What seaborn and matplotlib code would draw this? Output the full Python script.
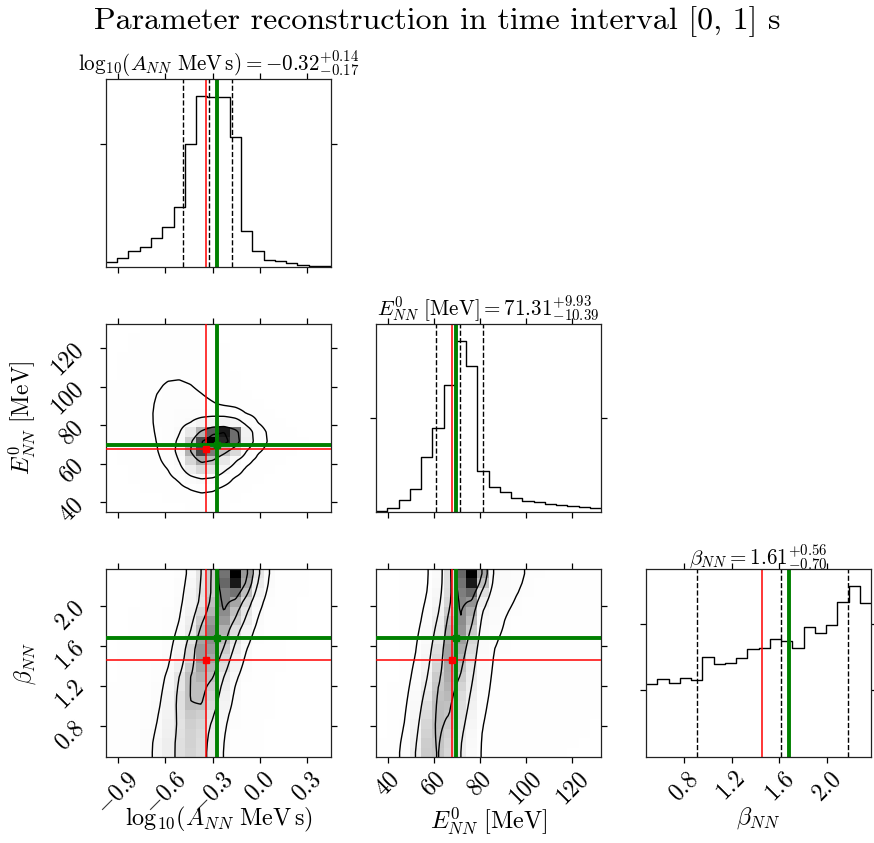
import numpy as np
import pandas as pd
import matplotlib
matplotlib.use("Agg")
import matplotlib.pyplot as plt
import seaborn as sns
from matplotlib.colors import LinearSegmentedColormap

plt.rcParams.update({
    "font.family": "serif",
    "font.serif": ["cmr10"],
    "mathtext.fontset": "cm",
    "axes.formatter.use_mathtext": True,
    "axes.unicode_minus": False,
})

# ---------------- data ----------------
main_title = "Parameter reconstruction in time interval [0, 1] s"
param_labels = [r"$\mathrm{log}_{10}(A_{NN}\ \mathrm{MeV\,s})$", r"$E^0_{NN}\ [\mathrm{MeV}]$", r"$\beta_{NN}$"]
ranges = [(-0.975, 0.45), (35.0, 132.4), (0.485, 2.365)]
tick_vals = [[-0.9, -0.6, -0.3, 0.0, 0.3], [40, 60, 80, 100, 120], [0.8, 1.2, 1.6, 2.0]]
tick_labels = [[r"$-0.9$", r"$-0.6$", r"$-0.3$", r"$0.0$", r"$0.3$"],
               [r"$40$", r"$60$", r"$80$", r"$100$", r"$120$"],
               [r"$0.8$", r"$1.2$", r"$1.6$", r"$2.0$"]]
medians = [-0.32, 71.31, 1.61]
err_plus = [0.14, 9.93, 0.56]
err_minus = [0.17, 10.39, 0.70]
truth_red = [-0.339, 67.8, 1.455]
best_green = [-0.273, 69.8, 1.68]

hist_logA = [14, 26, 48, 59, 86, 121, 179, 371, 514, 511, 510, 392, 108, 47, 20, 17, 13, 7, 3, 2]
hist_E0 = [4, 12, 36, 69, 166, 253, 383, 514, 440, 123, 75, 59, 43, 32, 31, 25, 20, 17, 14, 12]
hist_beta = [220, 236, 222, 238, 233, 300, 279, 282, 299, 324, 328, 356, 349, 328, 391, 373, 397, 465, 514, 463]
hist_yticks = [[371], [284], [201, 400]]

# 2D densities, rows listed from top (high y) to bottom (low y)
dens_logA_E0 = [
    [0.1, 0.2, 0.3, 0.4, 0.6, 0.8, 0.8, 0.7, 0.5, 0.4, 0.2, 0.1, 0, 0, 0, 0, 0, 0, 0, 0],
    [0.1, 0.2, 0.4, 0.5, 0.8, 1.0, 1.0, 0.9, 0.7, 0.5, 0.3, 0.1, 0, 0, 0, 0, 0, 0, 0, 0],
    [0.2, 0.3, 0.5, 0.7, 1.1, 1.4, 1.4, 1.2, 0.9, 0.6, 0.4, 0.2, 0, 0, 0, 0, 0, 0, 0, 0],
    [0.2, 0.4, 0.6, 0.9, 1.5, 1.9, 2.0, 1.7, 1.2, 0.8, 0.5, 0.2, 0, 0, 0, 0, 0, 0, 0, 0],
    [0.3, 0.5, 0.8, 1.2, 2.2, 2.9, 3.0, 2.5, 1.7, 1.1, 0.6, 0.3, 0, 0, 0, 0, 0, 0, 0, 0],
    [0.3, 0.6, 1.0, 1.7, 3.5, 5.0, 5.2, 4.2, 2.6, 1.5, 0.8, 0.4, 0.2, 0, 0, 0, 0, 0, 0, 0],
    [0.4, 0.8, 1.3, 2.4, 5.0, 6.8, 7.0, 6.0, 4.0, 2.4, 1.2, 0.6, 0.3, 0, 0, 0, 0, 0, 0, 0],
    [0.5, 1.0, 1.6, 3.0, 6.0, 7.5, 8.0, 7.5, 5.8, 4.0, 2.2, 1.1, 0.5, 0.2, 0, 0, 0, 0, 0, 0],
    [0.6, 1.1, 1.9, 3.5, 6.5, 8.0, 8.5, 8.5, 7.5, 6.0, 4.0, 5.0, 3.0, 0.8, 0.2, 0, 0, 0, 0, 0],
    [0.6, 1.2, 2.0, 3.8, 6.8, 8.2, 9.0, 9.5, 9.5, 8.0, 6.5, 6.0, 4.5, 3.0, 0.8, 0.2, 0, 0, 0, 0],
    [0.6, 1.2, 2.2, 4.0, 6.5, 8.0, 10, 14, 20, 22, 22, 18, 8, 4.5, 2.5, 0.5, 0, 0, 0, 0],
    [0.5, 1.0, 2.0, 3.8, 6.0, 8, 14, 30, 55, 80, 95, 75, 22, 7, 4.5, 2, 1, 0, 0, 0],
    [0.4, 0.9, 1.8, 3.5, 5.5, 8, 15, 45, 84, 100, 92, 75, 24, 8, 5, 2.5, 1.5, 1, 0, 0],
    [0.3, 0.7, 1.5, 3.0, 5.0, 8, 17, 55, 85, 72, 50, 38, 11, 5, 3.5, 1.5, 1, 0, 0, 0],
    [0.2, 0.5, 1.1, 2.4, 4.0, 6.5, 13, 40, 58, 50, 30, 15, 5, 3, 1.5, 1, 0, 0, 0, 0],
    [0.1, 0.3, 0.7, 1.6, 3.0, 5, 10, 26, 38, 33, 18, 8, 3, 1.5, 0.8, 0, 0, 0, 0, 0],
    [0.1, 0.2, 0.5, 0.9, 1.4, 2.5, 5, 11, 15, 13, 7, 3, 1.3, 0.6, 0, 0, 0, 0, 0, 0],
    [0, 0, 0, 0.4, 0.7, 1.4, 2.8, 6, 8, 7, 3.5, 1.5, 0.6, 0, 0, 0, 0, 0, 0, 0],
    [0, 0, 0, 0, 0.3, 0.5, 1.0, 2.0, 2.6, 2.3, 1.2, 0.6, 0.3, 0, 0, 0, 0, 0, 0, 0],
    [0, 0, 0, 0, 0, 0.2, 0.3, 0.7, 0.9, 0.8, 0.4, 0.2, 0, 0, 0, 0, 0, 0, 0, 0],
]
dens_logA_beta = [
    [0, 0, 0, 1, 3, 5, 8, 15, 32, 45, 74, 100, 63, 32, 12, 5, 2, 1, 0, 0],
    [0, 0, 0, 1, 3, 5, 9, 17, 33, 45, 77, 95, 59, 28, 11, 5, 2, 1, 0, 0],
    [0, 0, 0, 1, 3, 5, 10, 19, 34, 45, 71, 74, 50, 22, 9, 4, 2, 1, 0, 0],
    [0, 0, 0, 1, 3, 6, 11, 20, 32, 50, 71, 59, 39, 17, 7, 3, 1, 0, 0, 0],
    [0, 0, 1, 2, 4, 7, 12, 22, 39, 55, 67, 50, 32, 14, 6, 2, 1, 0, 0, 0],
    [0, 0, 1, 2, 4, 7, 13, 25, 45, 63, 63, 45, 28, 12, 5, 2, 1, 0, 0, 0],
    [0, 0, 1, 2, 4, 8, 15, 28, 50, 67, 55, 35, 20, 9, 4, 2, 1, 0, 0, 0],
    [0, 1, 2, 3, 5, 9, 17, 32, 59, 67, 50, 32, 17, 7, 3, 1, 0, 0, 0, 0],
    [0, 1, 2, 3, 5, 10, 19, 39, 63, 63, 45, 27, 13, 6, 2, 1, 0, 0, 0, 0],
    [0, 1, 2, 3, 6, 11, 21, 39, 63, 59, 39, 22, 11, 5, 2, 1, 0, 0, 0, 0],
    [0, 1, 2, 4, 7, 13, 24, 45, 59, 55, 35, 19, 9, 4, 2, 1, 0, 0, 0, 0],
    [0, 1, 2, 4, 8, 15, 32, 50, 55, 50, 28, 15, 7, 3, 1, 0, 0, 0, 0, 0],
    [1, 1, 3, 5, 9, 16, 32, 50, 50, 45, 25, 13, 6, 3, 1, 0, 0, 0, 0, 0],
    [1, 1, 3, 5, 10, 18, 35, 50, 50, 41, 22, 11, 5, 2, 1, 0, 0, 0, 0, 0],
    [1, 2, 3, 6, 11, 19, 35, 50, 49, 39, 20, 10, 5, 2, 1, 0, 0, 0, 0, 0],
    [1, 2, 3, 7, 13, 21, 34, 46, 43, 33, 16, 8, 4, 2, 1, 0, 0, 0, 0, 0],
    [1, 2, 4, 8, 14, 23, 33, 43, 40, 30, 15, 7, 3, 1, 0, 0, 0, 0, 0, 0],
    [1, 2, 4, 9, 15, 24, 34, 42, 38, 28, 14, 6, 3, 1, 0, 0, 0, 0, 0, 0],
    [1, 2, 4, 9, 18, 25, 35, 42, 37, 27, 13, 5, 2, 1, 0, 0, 0, 0, 0, 0],
    [1, 2, 4, 9, 18, 25, 35, 41, 36, 27, 12, 5, 2, 1, 0, 0, 0, 0, 0, 0],
]
dens_E0_beta = [
    [0, 0, 1, 3, 6, 14, 35, 77, 100, 59, 16, 12, 10, 8, 7, 5, 4, 3, 3, 2],
    [0, 0, 1, 3, 6, 15, 35, 74, 95, 50, 15, 12, 9, 8, 6, 5, 4, 3, 3, 2],
    [0, 0, 1, 3, 7, 17, 37, 71, 77, 35, 14, 11, 9, 7, 6, 5, 4, 3, 2, 2],
    [0, 0, 1, 3, 8, 19, 40, 69, 65, 25, 13, 10, 8, 6, 5, 4, 3, 3, 2, 2],
    [0, 0, 1, 4, 9, 22, 45, 67, 57, 18, 12, 9, 7, 5, 5, 4, 3, 2, 2, 2],
    [0, 0, 1, 4, 10, 25, 50, 67, 51, 15, 11, 8, 6, 5, 4, 3, 3, 2, 2, 1],
    [0, 0, 2, 5, 12, 28, 55, 65, 45, 13, 10, 8, 6, 4, 4, 3, 2, 2, 2, 1],
    [0, 0, 2, 6, 14, 31, 58, 62, 40, 12, 9, 7, 5, 4, 4, 3, 2, 2, 1, 1],
    [0, 0, 2, 7, 16, 35, 60, 57, 36, 11, 8, 7, 5, 4, 3, 3, 2, 2, 1, 1],
    [0, 0, 2, 8, 18, 38, 60, 53, 33, 10, 8, 6, 5, 4, 3, 3, 2, 2, 1, 1],
    [0, 0, 3, 9, 20, 41, 58, 49, 30, 10, 7, 6, 4, 3, 3, 2, 2, 1, 1, 1],
    [0, 0, 3, 10, 23, 45, 57, 45, 28, 9, 7, 5, 4, 3, 3, 2, 2, 1, 1, 1],
    [0, 1, 4, 11, 26, 47, 55, 41, 26, 9, 6, 5, 4, 3, 3, 2, 2, 1, 1, 1],
    [0, 1, 4, 13, 30, 49, 52, 37, 24, 8, 6, 5, 3, 3, 2, 2, 1, 1, 1, 1],
    [0, 1, 5, 15, 34, 50, 49, 35, 22, 8, 5, 4, 3, 2, 2, 2, 1, 1, 1, 1],
    [0, 1, 6, 17, 37, 50, 47, 32, 20, 7, 5, 4, 3, 2, 2, 2, 1, 1, 1, 1],
    [0, 2, 7, 19, 40, 50, 45, 30, 18, 7, 5, 4, 3, 2, 2, 1, 1, 1, 1, 0],
    [0, 2, 8, 21, 42, 49, 42, 28, 16, 6, 4, 3, 2, 2, 2, 1, 1, 1, 1, 0],
    [1, 3, 9, 23, 44, 48, 40, 26, 15, 6, 4, 3, 2, 2, 1, 1, 1, 1, 0, 0],
    [1, 3, 10, 25, 45, 47, 39, 26, 14, 6, 4, 3, 2, 1, 1, 1, 1, 0, 0, 0],
]

hists = [hist_logA, hist_E0, hist_beta]
dens = {(1, 0): dens_logA_E0, (2, 0): dens_logA_beta, (2, 1): dens_E0_beta}

# ---------------- helpers ----------------
def gauss_smooth(H, s):
    r = int(np.ceil(3 * s))
    k = np.exp(-0.5 * (np.arange(-r, r + 1) / s) ** 2)
    k /= k.sum()
    Hp = np.pad(H, r, mode="edge")
    out = np.apply_along_axis(lambda v: np.convolve(v, k, mode="valid"), 0, Hp)
    out = np.apply_along_axis(lambda v: np.convolve(v, k, mode="valid"), 1, out)
    return out


def corner_levels(H):
    levels = 1.0 - np.exp(-0.5 * np.arange(0.5, 2.1, 0.5) ** 2)
    flat = np.sort(H.ravel())[::-1]
    cm = np.cumsum(flat)
    cm /= cm[-1]
    V = np.array([flat[cm <= v0][-1] for v0 in levels])
    return np.sort(V)


density_cmap = LinearSegmentedColormap.from_list("density", [(1, 1, 1, 0), (0, 0, 0, 1)])

RED = "#ff0000"
GREEN = "#008000"

# ---------------- figure ----------------
W, Hpx = 874, 843
fig = plt.figure(figsize=(W / 100, Hpx / 100), dpi=100)
col_left = [106, 376, 646]
row_top = [79, 324, 569]
aw, ah = 225, 188


def add_ax(r, c):
    return fig.add_axes([col_left[c] / W, 1 - (row_top[r] + ah) / Hpx, aw / W, ah / Hpx])


for r in range(3):
    for c in range(r + 1):
        ax = add_ax(r, c)
        xlo, xhi = ranges[c]
        xedges = np.linspace(xlo, xhi, 21)
        xcent = 0.5 * (xedges[:-1] + xedges[1:])
        if r == c:
            h = np.array(hists[c], float)
            df1 = pd.DataFrame({"x": xcent, "w": h})
            sns.histplot(data=df1, x="x", weights="w", bins=20, binrange=(xlo, xhi),
                         element="step", fill=False, color="k", linewidth=1.0, ax=ax)
            ax.set_ylim(0, 1.1 * h.max())
            ax.set_yticks(hist_yticks[c])
            ax.set_yticklabels([])
            q16 = medians[c] - err_minus[c]
            q84 = medians[c] + err_plus[c]
            for q in (q16, medians[c], q84):
                ax.axvline(q, ls="--", color="k", lw=1.0)
            ax.axvline(truth_red[c], color=RED, lw=1.1)
            ax.axvline(best_green[c], color=GREEN, lw=2.8)
            name = param_labels[c].strip("$")
            title = r"$%s = %.2f^{+%.2f}_{-%.2f}$" % (name, medians[c], err_plus[c], err_minus[c])
            ax.set_title(title, fontsize=15.2, pad=3)
        else:
            ylo, yhi = ranges[r]
            yedges = np.linspace(ylo, yhi, 21)
            ycent = 0.5 * (yedges[:-1] + yedges[1:])
            Z = np.array(dens[(r, c)], float)[::-1]
            XX, YY = np.meshgrid(xcent, ycent)
            df2 = pd.DataFrame({"x": XX.ravel(), "y": YY.ravel(), "w": Z.ravel()})
            sns.histplot(data=df2, x="x", y="y", weights="w", bins=20,
                         binrange=[(xlo, xhi), (ylo, yhi)],
                         cmap=density_cmap, vmin=0, vmax=Z.max(), ax=ax, zorder=1)
            # contours (corner-style mass levels on lightly smoothed density)
            Zs = gauss_smooth(Z, 0.7)
            V = corner_levels(Zs)
            xe = np.concatenate([[xlo], xcent, [xhi]])
            ye = np.concatenate([[ylo], ycent, [yhi]])
            Ze = np.pad(Zs, 1, mode="edge")
            xf = np.linspace(xlo, xhi, 160)
            yf = np.linspace(ylo, yhi, 160)
            Zx = np.array([np.interp(xf, xe, row) for row in Ze])
            Zf = np.array([np.interp(yf, ye, col) for col in Zx.T]).T
            ax.contour(xf, yf, Zf, V, colors="k", linewidths=1.0, zorder=3)
            ax.axvline(truth_red[c], color=RED, lw=1.1, zorder=4)
            ax.axhline(truth_red[r], color=RED, lw=1.1, zorder=4)
            ax.axvline(best_green[c], color=GREEN, lw=2.8, zorder=5)
            ax.axhline(best_green[r], color=GREEN, lw=2.8, zorder=5)
            ax.plot(truth_red[c], truth_red[r], "s", color=RED, ms=4, zorder=6)
            ax.plot(best_green[c], best_green[r], "s", color=GREEN, ms=4, zorder=6)
            ax.set_ylim(ylo, yhi)
            ax.set_yticks(tick_vals[r])
            if c == 0:
                ax.set_yticklabels(tick_labels[r], rotation=45, fontsize=17)
                ax.set_ylabel(param_labels[r], fontsize=17)
                ax.yaxis.set_label_coords(-0.3, 0.5)
            else:
                ax.set_yticklabels([])
                ax.set_ylabel("")
        ax.set_xlim(xlo, xhi)
        ax.set_xticks(tick_vals[c])
        if r == 2:
            ax.set_xticklabels(tick_labels[c], rotation=45, ha="center", fontsize=17)
            ax.set_xlabel(param_labels[c], fontsize=17.5)
            ax.xaxis.set_label_coords(0.5, -0.255)
        else:
            ax.set_xticklabels([])
            ax.set_xlabel("")
        if r == c:
            ax.set_ylabel("")
        ax.tick_params(top=True, right=True, direction="out", length=4.5, width=0.9,
                       labeltop=False, labelright=False)
        ax.tick_params(axis="y", pad=8)
        for s in ax.spines.values():
            s.set_linewidth(0.9)
            s.set_color("#222222")

fig.text(0.5, 1 - 22 / Hpx, main_title, ha="center", va="center", fontsize=23)
fig.savefig("out.png", dpi=100)
